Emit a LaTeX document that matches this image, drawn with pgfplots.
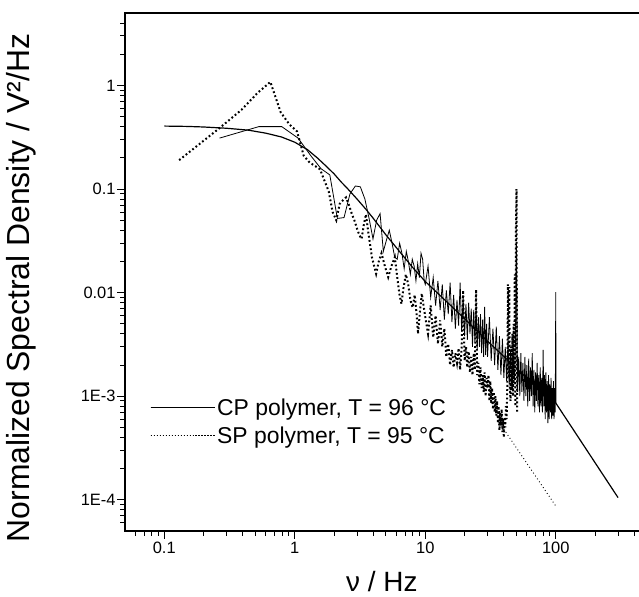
\documentclass[border=0pt]{standalone}
\usepackage{fontspec}
\setmainfont{Liberation Sans}
\usepackage{pgfplots}
\pgfplotsset{compat=1.18}
\begin{document}
\begin{tikzpicture}
\begin{axis}[
  name=ax, at={(0,0)}, anchor=south west,
  scale only axis, width=522bp, height=518bp,
  xmode=log, ymode=log,
  xmin=0.05, xmax=500, ymin=5e-5, ymax=5,
  axis line style={line width=1.3bp},
  every tick/.style={black, line width=1bp},
  tick align=outside, xtick pos=bottom, ytick pos=left,
  major tick length=8bp, minor tick length=5bp,
  xtick={0.1,1,10,100}, xticklabels={0.1,1,10,100},
  ytick={1e-4,1e-3,0.01,0.1,1}, yticklabels={1E-4,1E-3,0.01,0.1,1},
  minor xtick={0.06,0.07,0.08,0.09,0.2,0.3,0.4,0.5,0.6,0.7,0.8,0.9,2,3,4,5,6,7,8,9,20,30,40,50,60,70,80,90,200,300,400},
  minor ytick={6e-5,7e-5,8e-5,9e-5,2e-4,3e-4,4e-4,5e-4,6e-4,7e-4,8e-4,9e-4,0.002,0.003,0.004,0.005,0.006,0.007,0.008,0.009,0.02,0.03,0.04,0.05,0.06,0.07,0.08,0.09,0.2,0.3,0.4,0.5,0.6,0.7,0.8,0.9,2,3,4},
  ticklabel style={font=\fontsize{16.5}{19}\selectfont},
  yticklabel style={xshift=2bp},
  xlabel={ν / Hz},
  ylabel={Normalized Spectral Density / V²/Hz},
  xlabel style={at={(axis description cs:0.492,-0.0985)}, anchor=center, font=\fontsize{28}{32}\selectfont},
  ylabel style={at={(axis description cs:-0.199,0.469)}, anchor=center, font=\fontsize{32}{36}\selectfont},
  legend image code/.code={\draw[#1] (0bp,0bp) -- (60bp,0bp); \path (0bp,0bp) -- (64bp,0bp);},
  legend cell align=left,
  legend style={draw=none, fill=none, at={(axis description cs:0.042,0.211)}, anchor=west,
    font=\fontsize{23}{27}\selectfont, row sep=6bp},
]
\addlegendimage{black, line width=1.1pt}
\addlegendentry{CP polymer, T = 96 °C}
\addlegendimage{black, line width=1.1pt, dash pattern=on 1.1pt off 1.9pt}
\addlegendentry{SP polymer, T = 95 °C}

% CP fit
\addplot[black, line width=1.2bp, forget plot] coordinates {
(0.1,0.405)(0.15,0.402)(0.2,0.397)(0.3,0.386)(0.44,0.37)(0.6,0.346)(0.79,0.318)(1.0,0.283)(1.25,0.24)(1.5,0.198)(1.75,0.165)(2.0,0.14)(2.28,0.116)(2.5,0.103)(3,0.08)(3.5,0.064)(4,0.052)(5,0.036)(6.6,0.0235)(8,0.0175)(10,0.0128)(15,0.0079)(20,0.0056)(30,0.0034)(50,0.00186)(70,0.00124)(100,0.00086)(300,0.000105)
};

% CP measured
\addplot[black, line width=0.8bp, forget plot] coordinates {
(0.265,0.31)(0.53,0.40)(0.795,0.40)(1.06,0.31)(1.325,0.21)(1.59,0.157)(1.855,0.137)(2.12,0.052)(2.385,0.053)(2.65,0.09)(2.915,0.107)(3.18,0.105)(3.445,0.08)(3.71,0.052)(3.975,0.033)(4.24,0.050)(4.505,0.058)(4.77,0.025)(5.035,0.032)(5.30,0.040)(5.565,0.030)(5.83,0.022)(6.095,0.021)(6.36,0.030)(6.625,0.024)(6.89,0.017)(7.155,0.025)(7.42,0.020)(7.685,0.015)(7.95,0.021)(8.215,0.018)(8.48,0.013)(8.745,0.019)(9.01,0.014)(9.275,0.024)(9.54,0.021)(9.805,0.013)
(10.0,0.012)(10.5,0.018)(11.0,0.009)(11.5,0.014)(12.0,0.0075)(12.5,0.013)(13.0,0.0068)(13.5,0.012)(14.0,0.0055)(14.5,0.0105)(15.0,0.0062)(15.5,0.0125)(16.0,0.0052)(16.5,0.0095)(17.0,0.0045)(17.5,0.0085)(18.0,0.0048)(18.5,0.0125)(19.0,0.0042)(19.5,0.0090)(20.0,0.0038)(20.5,0.0078)(21.0,0.0035)(21.5,0.0080)(22.0,0.0040)(22.5,0.0070)(23.0,0.0030)(23.5,0.0068)(24.0,0.0033)(24.5,0.0075)(25.0,0.0028)(25.5,0.0058)(26.0,0.0030)(26.5,0.0062)(27.0,0.0026)(27.5,0.0055)(28.0,0.0024)(28.5,0.0073)(29.0,0.0025)(29.5,0.0050)
(30,0.0024)(31,0.0058)(32,0.0022)(33,0.0045)(34,0.0020)(35,0.0047)(36,0.0018)(37,0.0038)(38,0.0016)(39,0.0036)(40,0.0015)(41,0.0030)(42,0.0014)(43,0.0034)(44,0.0013)(45,0.0028)(46,0.0012)(47,0.0026)(48,0.0013)(49,0.0030)(50,0.03)(51,0.0011)(52,0.0024)(53,0.0010)(54,0.0026)(55,0.0011)(56,0.0021)(57,0.0009)(58,0.0024)(59,0.0010)(60,0.0020)(61,0.0008)(62,0.0023)(63,0.0009)(64,0.0019)(65,0.0010)(66,0.0026)(67,0.0008)(68,0.0018)(69,0.0007)(70,0.0017)(71,0.0009)(72,0.0021)(73,0.0008)(74,0.0016)(75,0.0007)(76,0.0019)(77,0.0008)(78,0.0015)(79,0.0007)(80,0.0028)(81,0.0008)(82,0.0016)(83,0.0006)(84,0.0017)(85,0.0007)(86,0.0014)(87,0.00055)(88,0.0016)(89,0.0006)(90,0.0013)(91,0.0007)(92,0.0015)(93,0.0006)(94,0.0012)(95,0.00065)(96,0.0014)(97,0.0006)(98,0.0012)(99,0.0007)(100,0.0101)(100.3,0.00086)
};

% SP measured
\addplot[black, line width=2bp, dash pattern=on 1.8bp off 2.4bp, forget plot] coordinates {
(0.13,0.19)(0.26,0.38)(0.39,0.58)(0.52,0.85)(0.65,1.08)(0.78,0.55)(0.91,0.42)(1.04,0.36)(1.17,0.21)(1.30,0.18)(1.43,0.167)(1.56,0.155)(1.69,0.12)(1.82,0.095)(1.95,0.06)(2.08,0.050)(2.21,0.072)(2.34,0.078)(2.47,0.083)(2.60,0.07)(2.73,0.058)(2.86,0.050)(2.99,0.042)(3.12,0.036)(3.25,0.033)(3.38,0.045)(3.51,0.057)(3.64,0.040)(3.9,0.022)(4.2,0.0152)(4.4,0.020)(4.62,0.024)(4.9,0.018)(5.2,0.0141)(5.5,0.018)(5.84,0.022)(6.1,0.014)(6.35,0.0095)(6.57,0.0078)(6.8,0.011)(7.1,0.015)(7.4,0.012)(7.7,0.0084)(8.0,0.0072)(8.3,0.0095)(8.57,0.0063)(8.8,0.004)(9.1,0.0065)(9.4,0.0098)(9.7,0.0075)(10.0,0.0058)
(10.5,0.0040)(11.0,0.0075)(11.5,0.0037)(12.0,0.0060)(12.5,0.0032)(13.0,0.0054)(13.5,0.0030)(14.0,0.0045)(14.5,0.0024)(15.0,0.0032)(15.5,0.0020)(16.0,0.0028)(16.5,0.0019)(17.0,0.0026)(17.5,0.0021)(18.0,0.0029)(18.5,0.0018)(19.0,0.0030)(19.5,0.0105)(20.0,0.0022)(20.5,0.0030)(21.0,0.0019)(21.5,0.0027)(22.0,0.0017)(22.5,0.0024)(23.0,0.0016)(23.5,0.0026)(24.0,0.0018)(24.5,0.0107)(25.0,0.0016)(25.5,0.0021)(26.0,0.0013)(26.5,0.0019)(27.0,0.0012)(27.5,0.0016)(28.0,0.0011)(28.5,0.0017)(29.0,0.0010)(29.5,0.0015)(30.0,0.0012)(30.5,0.0016)(31.0,0.0009)(31.5,0.0014)(32.0,0.00085)(32.5,0.0012)(33.0,0.00075)(33.5,0.0011)(34.0,0.0007)(34.5,0.0010)(35.0,0.00065)(35.5,0.0009)(36.0,0.00055)(36.5,0.0008)(37.0,0.00047)(37.5,0.0007)(38.0,0.00052)(38.5,0.00075)(39.0,0.00045)(39.5,0.0006)(40.0,0.0004)(40.5,0.00063)(41.0,0.0005)(41.5,0.0008)(42.0,0.0006)(42.5,0.0012)(43.0,0.012)(43.5,0.0015)(44.0,0.0113)(44.5,0.0012)(45.0,0.0009)(45.5,0.0030)(46.0,0.0012)(46.5,0.0040)(47.0,0.0010)(47.5,0.0050)(48.0,0.0016)(48.5,0.015)(49.0,0.0008)(49.5,0.040)(50.0,0.10)(50.5,0.0007)
};

% SP high-frequency extrapolation
\addplot[black, line width=0.9bp, dash pattern=on 0.9bp off 2.6bp, forget plot] coordinates {
(40,0.00048)(100,0.000087)
};
\end{axis}
\pgfresetboundingbox
\path (-125bp,-66bp) rectangle (514bp,531bp);
\end{tikzpicture}
\end{document}
